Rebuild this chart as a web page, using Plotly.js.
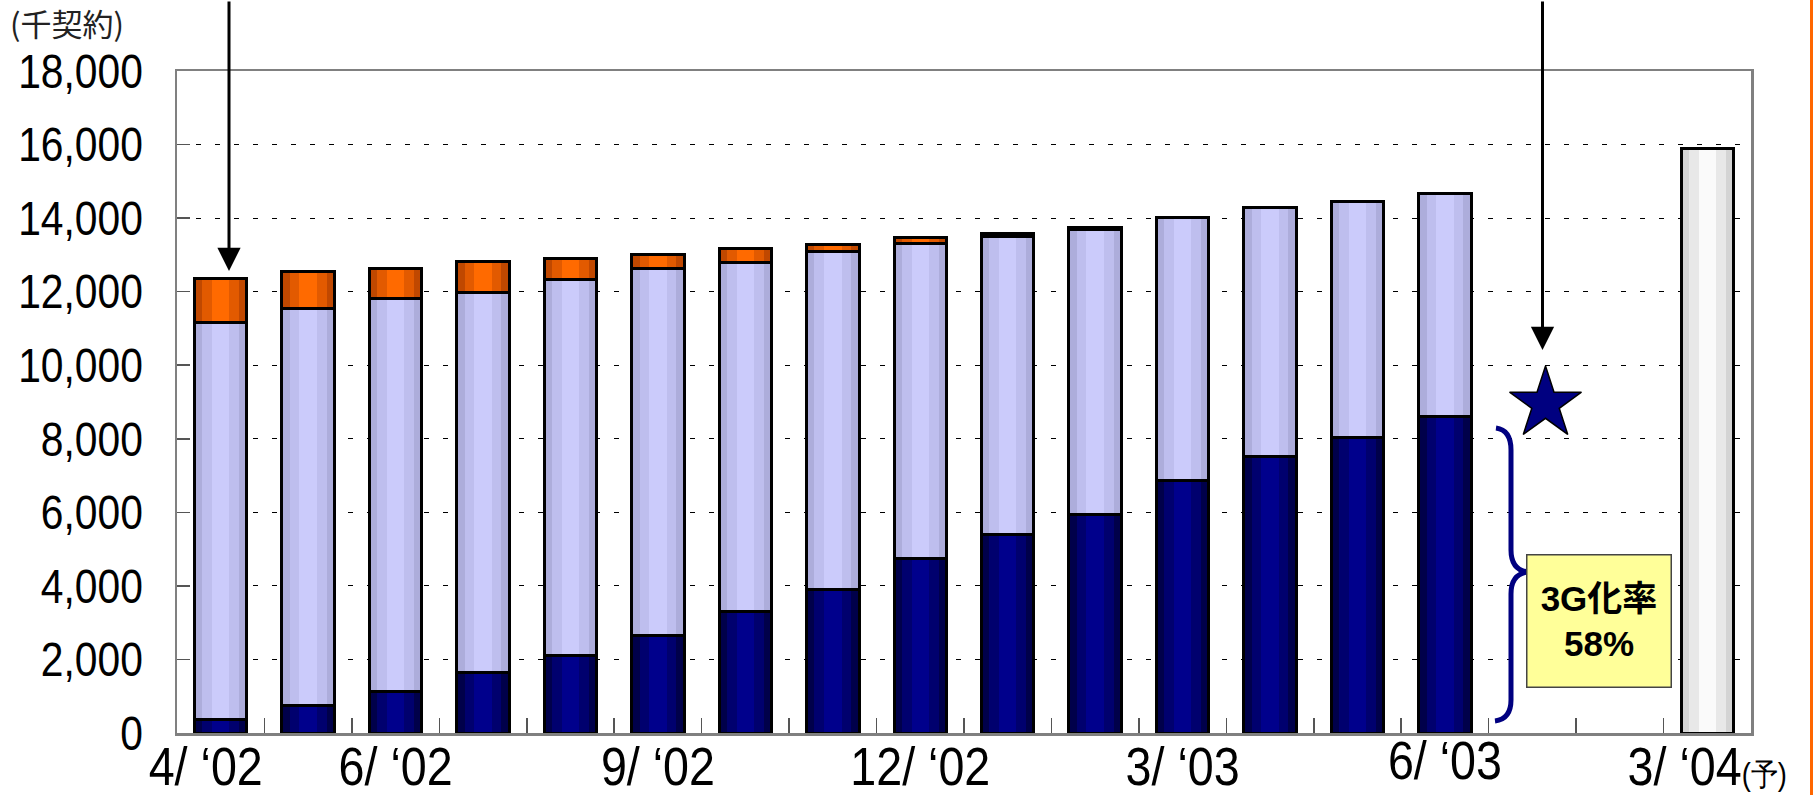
<!DOCTYPE html>
<html><head><meta charset="utf-8">
<script src="https://cdn.plot.ly/plotly-3.0.1.min.js"></script>
<style>html,body{margin:0;padding:0;background:#fff}#chart{width:1813px;height:795px}</style>
</head><body><div id="chart"></div>
<script>
// ---- data ----
const tickLabels = ['4/ ‘02','','6/ ‘02','','','9/ ‘02','','','12/ ‘02','','','3/ ‘03','','','6/ ‘03','','','3/ ‘04<span style="font-size:31px">(予)</span>'];
const months = ['4/‘02','5/‘02','6/‘02','7/‘02','8/‘02','9/‘02','10/‘02','11/‘02','12/‘02','1/‘03','2/‘03','3/‘03','4/‘03','5/‘03','6/‘03'];
const navy3G   = [375, 741, 1116, 1652, 2098, 2652, 3310, 3909, 4743, 5396, 5940, 6856, 7509, 8048, 8600];
const lavender = [10786, 10795, 10697, 10330, 10241, 9973, 9494, 9188, 8560, 8095, 7740, 7171, 6786, 6417, 6070];
const orange   = [1205, 1018, 821, 839, 572, 393, 375, 180, 170, 80, 70, 0, 0, 0, 0];
const forecastTotal = [15900];
const targetX = [15.15];
const targetY = [8950];

// ---- geometry helpers (page pixels -> paper) ----
const L = 177, R = 1751, T = 71, B = 733;
const px = X => (X - L) / (R - L);
const py = Y => (B - Y) / (B - T);

const nSlots = tickLabels.length;
const monthX = months.map((m, i) => i);
const forecastX = [nSlots - 1];
const boundaries = tickLabels.map((t, i) => i - 0.5).concat([nSlots - 0.5]);
const labelIdx = tickLabels.map((t, i) => i).filter(i => tickLabels[i] !== '');
const xRange = [-0.5, nSlots - 0.5];

const FN = "'Liberation Sans',Arial,sans-serif";

const series = [
  {name: '3G', x: monthX, y: navy3G, tones: ['#00004A', '#00006E', '#00008C']},
  {name: 'mova', x: monthX, y: lavender, tones: ['#ADADDB', '#BEBEEE', '#CBCBFB']},
  {name: 'other', x: monthX, y: orange, tones: ['#C04800', '#E25A00', '#FF6A00']},
  {name: 'forecast', x: forecastX, y: forecastTotal, tones: ['#D4D4D4', '#E8E8E8', '#FAFAFA']}
];
const layers = [
  {axis: 'x', width: 0.6, tone: 0},
  {axis: 'x2', width: 0.42, tone: 1},
  {axis: 'x3', width: 0.2, tone: 2},
  {axis: 'x4', width: 0.6, outline: true}
];

const traces = [];
layers.forEach(ly => {
  series.forEach(s => {
    traces.push({
      type: 'bar', x: s.x, y: s.y, xaxis: ly.axis, yaxis: 'y',
      width: ly.width, name: s.name, hoverinfo: 'skip',
      marker: ly.outline
        ? {color: 'rgba(0,0,0,0)', line: {color: '#000', width: 3}}
        : {color: s.tones[ly.tone], line: {width: 0}}
    });
  });
});
traces.push({
  type: 'scatter', mode: 'markers', x: targetX, y: targetY, xaxis: 'x4', yaxis: 'y',
  hoverinfo: 'skip', cliponaxis: false,
  marker: {symbol: 'star', size: 54, color: '#000080', line: {color: '#000', width: 1.5}}
});

const bp = (X, Y) => px(X).toFixed(5) + ',' + py(Y).toFixed(5);
const bracePath =
  'M' + bp(1496, 428) +
  ' Q' + bp(1511, 430) + ' ' + bp(1511, 450) +
  ' L' + bp(1511, 550) +
  ' Q' + bp(1511, 570) + ' ' + bp(1528, 572) +
  ' Q' + bp(1511, 574) + ' ' + bp(1511, 594) +
  ' L' + bp(1511, 700) +
  ' Q' + bp(1511, 719) + ' ' + bp(1495, 721);

const overlayAxis = {overlaying: 'x', range: xRange, visible: false, fixedrange: true};

const layout = {
  width: 1813, height: 795, autosize: false,
  margin: {l: L, r: 1813 - R, t: T, b: 795 - B, pad: 0},
  paper_bgcolor: '#fff', plot_bgcolor: '#fff',
  barmode: 'stack', showlegend: false,
  xaxis: {
    range: xRange, tickmode: 'array', tickvals: boundaries, showticklabels: false,
    ticks: 'inside', ticklen: 15, tickwidth: 1.5, tickcolor: '#555',
    showline: true, linecolor: '#808080', linewidth: 2.5, mirror: true,
    showgrid: false, zeroline: false, fixedrange: true
  },
  xaxis2: overlayAxis,
  xaxis3: overlayAxis,
  xaxis4: {
    overlaying: 'x', range: xRange, tickmode: 'array', tickvals: labelIdx,
    ticktext: labelIdx.map(i => tickLabels[i]), ticks: '', showline: false,
    showgrid: false, zeroline: false, fixedrange: true, ticklabelstandoff: -2,
    tickfont: {family: FN, size: 53, color: '#000'}
  },
  yaxis: {
    range: [0, 18000], tick0: 0, dtick: 2000, tickformat: ',d',
    showgrid: true, gridcolor: '#000', gridwidth: 1, griddash: '5px,14px',
    ticks: 'inside', ticklen: 13, tickcolor: '#555', tickwidth: 1.5,
    showline: true, linecolor: '#808080', linewidth: 2.5, mirror: true,
    zeroline: false, fixedrange: true, ticklabelstandoff: 22,
    tickfont: {family: FN, size: 48, color: '#000'}
  },
  shapes: [
    {type: 'path', xref: 'paper', yref: 'paper', path: bracePath,
     line: {color: '#000080', width: 5}, fillcolor: 'rgba(0,0,0,0)'},
    {type: 'line', xref: 'paper', yref: 'paper', x0: px(1811.5), x1: px(1811.5),
     y0: py(0), y1: py(795), line: {color: '#FF6600', width: 3}}
  ],
  annotations: [
    {xref: 'paper', yref: 'paper', x: px(8), y: py(23), xanchor: 'left', yanchor: 'middle',
     text: '(千契約)', showarrow: false,
     font: {family: "'Noto Sans CJK JP',sans-serif", size: 31, color: '#222'}},
    {xref: 'paper', yref: 'paper', x: px(229), y: py(271), ax: 0, ay: -271, text: '',
     showarrow: true, arrowhead: 2, arrowwidth: 3, arrowsize: 1.55, arrowcolor: '#000', standoff: 0},
    {xref: 'paper', yref: 'paper', x: px(1542.5), y: py(350), ax: 0, ay: -350, text: '',
     showarrow: true, arrowhead: 2, arrowwidth: 3, arrowsize: 1.55, arrowcolor: '#000', standoff: 0},
    {xref: 'paper', yref: 'paper', x: px(1598.5), y: py(620.5), xanchor: 'center', yanchor: 'middle',
     text: '<b>3G化率</b><br><b>58%</b>', showarrow: false,
     bgcolor: '#FFFF99', bordercolor: '#444', borderwidth: 1.5, borderpad: 0,
     width: 143, height: 131, align: 'center', valign: 'middle',
     font: {family: "'Liberation Sans','Noto Sans CJK JP',sans-serif", size: 35, color: '#000'}}
  ]
};

// per-label nudges seen in the reference (pixels)
const labelNudge = {'4/ ‘02': [-15, 0], '6/ ‘03': [0, -6]};

// narrow the tick label glyphs (the reference uses a slightly condensed face)
function condense(sel, s, nudge) {
  document.querySelectorAll(sel).forEach(t => {
    const x = parseFloat(t.getAttribute('x') || '0');
    const tr = t.getAttribute('transform') || '';
    let extra = ' translate(' + x + ',0) scale(' + s + ',1) translate(' + (-x) + ',0)';
    const n = nudge && nudge[t.textContent];
    if (n) extra = ' translate(' + n[0] + ',' + n[1] + ')' + extra;
    t.setAttribute('transform', tr + extra);
  });
}

Plotly.newPlot('chart', traces, layout, {staticPlot: true, displayModeBar: false}).then(() => {
  condense('#chart .ytick text', 0.85);
  condense('#chart .x4tick text', 0.88, labelNudge);
});
</script>
</body></html>
